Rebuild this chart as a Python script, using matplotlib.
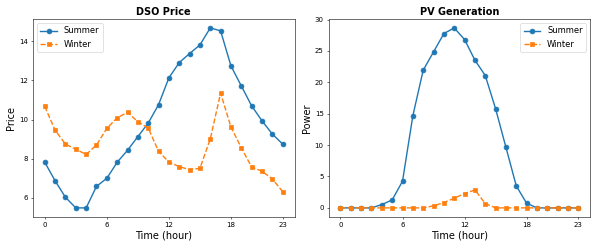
import matplotlib
matplotlib.use("Agg")
import matplotlib.pyplot as plt

hours = list(range(24))
xticks = [0, 6, 12, 18, 23]

price_summer = [7.82, 6.87, 6.03, 5.49, 5.49, 6.59, 7.00, 7.82, 8.43, 9.13, 9.82, 10.76,
                12.13, 12.91, 13.37, 13.81, 14.68, 14.53, 12.74, 11.72, 10.70, 9.94, 9.26, 8.75]
price_winter = [10.67, 9.45, 8.75, 8.48, 8.22, 8.70, 9.55, 10.09, 10.37, 9.89, 9.57, 8.38,
                7.83, 7.60, 7.44, 7.51, 9.01, 11.35, 9.62, 8.56, 7.58, 7.36, 6.97, 6.32]

pv_summer = [0, 0, 0, 0, 0.53, 1.27, 4.24, 14.68, 21.94, 24.85, 27.77, 28.67,
             26.82, 23.53, 21.09, 15.79, 9.65, 3.50, 0.74, 0, 0, 0, 0, 0]
pv_winter = [0, 0, 0, 0, 0, 0, 0, 0, 0, 0.32, 0.85, 1.54,
             2.28, 2.86, 0.69, 0, 0, 0, 0, 0, 0, 0, 0, 0]

fig, (ax1, ax2) = plt.subplots(1, 2, figsize=(598 / 50, 249 / 50), dpi=50)
fig.subplots_adjust(left=0.055, right=0.987, bottom=0.129, top=0.924, wspace=0.13)

ax1.plot(hours, price_summer, marker='o', markersize=7, linewidth=2, label='Summer')
ax1.plot(hours, price_winter, marker='s', markersize=7, linewidth=2, linestyle='--', label='Winter')
ax1.set_title('DSO Price', fontsize=14, fontweight='bold')
ax1.set_xlabel('Time (hour)', fontsize=14)
ax1.set_ylabel('Price', fontsize=14)
ax1.set_xticks(xticks)
ax1.legend(loc='upper left', fontsize=12)

ax2.plot(hours, pv_summer, marker='o', markersize=7, linewidth=2, label='Summer')
ax2.plot(hours, pv_winter, marker='s', markersize=7, linewidth=2, linestyle='--', label='Winter')
ax2.set_title('PV Generation', fontsize=14, fontweight='bold')
ax2.set_xlabel('Time (hour)', fontsize=14)
ax2.set_ylabel('Power', fontsize=14)
ax2.set_xticks(xticks)
ax2.legend(loc='upper right', fontsize=12)

fig.savefig('out.png', dpi=50)
